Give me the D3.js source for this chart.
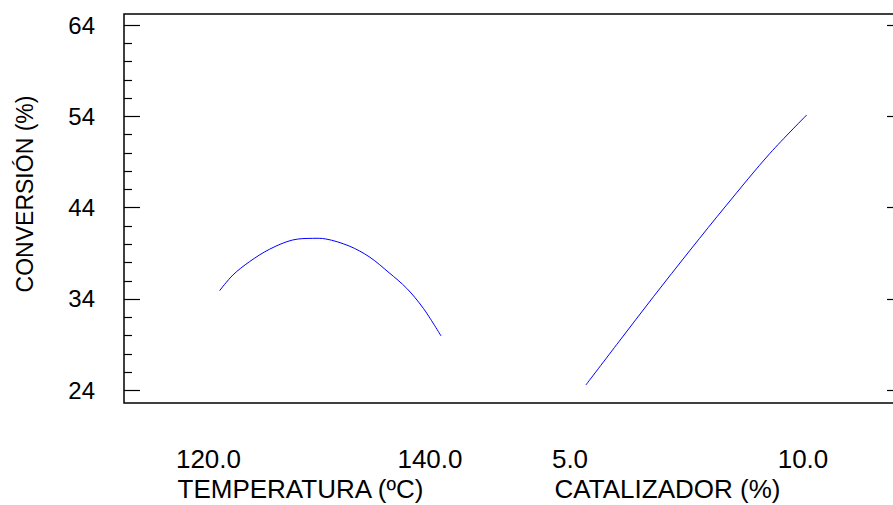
<!DOCTYPE html>
<html>
<head>
	<title>Conversión</title>
	<style>
	body {
		margin: 0;
		background: #fff;
		font-family: "Liberation Sans", Arial, sans-serif;
	}
	.frame { fill: none; stroke: #000; stroke-width: 1.5; }
	.tick { stroke: #000; stroke-width: 1.2; }
	.lbl { font-size: 24px; fill: #000; }
	.xlbl { font-size: 26px; fill: #000; }
	.ttl { font-size: 26px; fill: #000; }
	</style>
</head>
<body>
	<div id="vis"></div>

	<script src="https://d3js.org/d3.v7.min.js"></script>
	<script>
		var width = 893, height = 505;

		// y axis ticks
		var yTicks = [24, 34, 44, 54, 64];
		var yMinor = [24, 26, 28, 30, 32, 34, 36, 38, 40, 42, 44, 46, 48, 50, 52, 54, 56, 58, 60, 62, 64];

		// temperatura panel
		var tempTicks = [120, 140];
		var tempX = [121.0, 122.2, 123.7, 125.5, 127.6, 129.4, 130.6, 132.7, 134.5, 136.3, 137.9, 139.4, 141.0];
		var tempY = [34.88, 36.60, 38.06, 39.42, 40.44, 40.62, 40.55, 39.78, 38.61, 36.86, 35.14, 32.95, 29.92];

		// catalizador panel
		var catTicks = [5, 10];
		var catX = [5.34, 6.05, 6.79, 7.58, 8.36, 9.29, 10.08];
		var catY = [24.55, 29.30, 34.22, 39.34, 44.27, 49.93, 54.14];

		var box = {left: 124, right: 903, top: 14, bottom: 403};

		var svg = d3.select("#vis").append("svg")
			.attr("width", width)
			.attr("height", height);

		var y = d3.scaleLinear().domain([22.58, 65.2]).range([box.bottom, box.top]);
		var xT = d3.scaleLinear().domain([120, 140]).range([208.5, 430]);
		var xC = d3.scaleLinear().domain([5, 10]).range([570, 803]);

		// frame
		svg.append("rect")
			.attr("class", "frame")
			.attr("x", box.left)
			.attr("y", box.top)
			.attr("width", box.right - box.left)
			.attr("height", box.bottom - box.top);

		// left ticks (major + minor)
		svg.selectAll(".minor")
			.data(yMinor)
		  .enter().append("line")
			.attr("class", "tick")
			.attr("x1", box.left)
			.attr("x2", function(d) { return box.left + (yTicks.indexOf(d) >= 0 ? 16 : 8); })
			.attr("y1", function(d) { return Math.round(y(d)) + 0.5; })
			.attr("y2", function(d) { return Math.round(y(d)) + 0.5; });

		// right ticks
		svg.selectAll(".rt")
			.data(yTicks)
		  .enter().append("line")
			.attr("class", "tick")
			.attr("x1", box.right - 16)
			.attr("x2", box.right)
			.attr("y1", function(d) { return Math.round(y(d)) + 0.5; })
			.attr("y2", function(d) { return Math.round(y(d)) + 0.5; });

		svg.selectAll(".ylbl")
			.data(yTicks)
		  .enter().append("text")
			.attr("class", "lbl")
			.attr("x", 95)
			.attr("y", function(d) { return y(d); })
			.attr("dy", "0.36em")
			.attr("text-anchor", "end")
			.text(function(d) { return d; });

		svg.append("text")
			.attr("class", "ttl")
			.attr("transform", "translate(33,194) rotate(-90)")
			.attr("text-anchor", "middle")
			.style("font-size", "23px")
			.text("CONVERSIÓN (%)");

		// x tick labels
		svg.selectAll(".tlbl")
			.data(tempTicks)
		  .enter().append("text")
			.attr("class", "xlbl")
			.attr("x", function(d) { return xT(d); })
			.attr("y", 468)
			.attr("text-anchor", "middle")
			.text(function(d) { return d.toFixed(1); });

		svg.selectAll(".clbl")
			.data(catTicks)
		  .enter().append("text")
			.attr("class", "xlbl")
			.attr("x", function(d) { return xC(d); })
			.attr("y", 468)
			.attr("text-anchor", "middle")
			.text(function(d) { return d.toFixed(1); });

		svg.append("text")
			.attr("class", "ttl")
			.attr("x", 300.5)
			.attr("y", 498)
			.attr("text-anchor", "middle")
			.text("TEMPERATURA (ºC)");

		svg.append("text")
			.attr("class", "ttl")
			.attr("x", 667.5)
			.attr("y", 498)
			.attr("text-anchor", "middle")
			.text("CATALIZADOR (%)");

		// curves
		var tempLine = d3.line()
			.x(function(d, i) { return xT(tempX[i]); })
			.y(function(d, i) { return y(tempY[i]); })
			.curve(d3.curveCatmullRom);

		var catLine = d3.line()
			.x(function(d, i) { return xC(catX[i]); })
			.y(function(d, i) { return y(catY[i]); })
			.curve(d3.curveCatmullRom);

		svg.append("path")
			.datum(tempX)
			.attr("d", tempLine)
			.attr("fill", "none")
			.attr("stroke", "#0000ff")
			.attr("stroke-width", 1);

		svg.append("path")
			.datum(catX)
			.attr("d", catLine)
			.attr("fill", "none")
			.attr("stroke", "#0000ff")
			.attr("stroke-width", 1);
	</script>
</body>
</html>
